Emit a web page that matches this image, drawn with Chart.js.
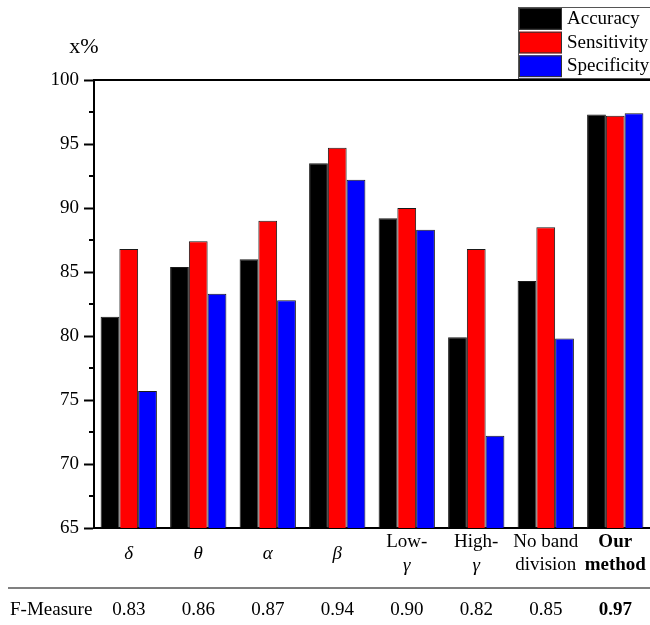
<!DOCTYPE html>
<html>
<head>
<meta charset="utf-8">
<script src="https://cdn.jsdelivr.net/npm/chart.js@4.4.1/dist/chart.umd.min.js"></script>
<style>
  html, body { margin: 0; padding: 0; background: #fff; }
  #wrap { width: 650px; height: 625px; }
</style>
</head>
<body>
<div id="wrap"><canvas id="chart" width="650" height="625"></canvas></div>
<script>
'use strict';

// ── Data ─────────────────────────────────────────────────────────────────────
const categories  = [['δ'], ['θ'], ['α'], ['β'], ['Low-', 'γ'], ['High-', 'γ'], ['No band', 'division'], ['Our', 'method']];
const accuracy    = [81.5, 85.4, 86.0, 93.5, 89.2, 79.9, 84.3, 97.3];
const sensitivity = [86.8, 87.4, 89.0, 94.7, 90.0, 86.8, 88.5, 97.2];
const specificity = [75.7, 83.3, 82.8, 92.2, 88.3, 72.2, 79.8, 97.4];
const fMeasure    = ['0.83', '0.86', '0.87', '0.94', '0.90', '0.82', '0.85', '0.97'];
const yTicks      = [65, 70, 75, 80, 85, 90, 95, 100];
const highlightIndex = 7; // "Our method" is set in bold

const FONT = '"Liberation Serif", "Times New Roman", serif';
Chart.defaults.font.family = FONT;
Chart.defaults.color = '#000';

// ── Helpers ──────────────────────────────────────────────────────────────────
function isGreek(s) {
  return /^[\u0370-\u03ff]$/.test(s);
}

function fontFor(text, bold, size) {
  return `${isGreek(text) ? 'italic ' : ''}${bold ? 'bold ' : ''}${size}px ${FONT}`;
}

// ── Plugins ──────────────────────────────────────────────────────────────────
const decorations = {
  id: 'decorations',
  afterDraw(chart) {
    const { ctx, chartArea, scales: { x, y } } = chart;
    ctx.save();

    // top frame line + minor ticks on the y axis
    ctx.strokeStyle = '#000';
    ctx.lineWidth = 2;
    ctx.beginPath();
    ctx.moveTo(chartArea.left - 1, chartArea.top);
    ctx.lineTo(chartArea.right, chartArea.top);
    for (let i = 0; i < yTicks.length - 1; i++) {
      const py = y.getPixelForValue((yTicks[i] + yTicks[i + 1]) / 2);
      ctx.moveTo(chartArea.left - 5, py);
      ctx.lineTo(chartArea.left, py);
    }
    ctx.stroke();

    // "x%" unit label
    ctx.fillStyle = '#000';
    ctx.textAlign = 'center';
    ctx.textBaseline = 'middle';
    ctx.font = `22px ${FONT}`;
    ctx.fillText('x%', 84, 47);

    // category labels under the axis
    categories.forEach((lines, i) => {
      const px = x.getPixelForValue(i);
      const bold = i === highlightIndex;
      const lineH = 23;
      const y0 = 554 - (lines.length - 1) * lineH / 2;
      lines.forEach((txt, j) => {
        ctx.font = fontFor(txt, bold, 19);
        ctx.fillText(txt, px, y0 + j * lineH);
      });
    });

    // separator + F-Measure row
    ctx.strokeStyle = '#808080';
    ctx.lineWidth = 2;
    ctx.beginPath();
    ctx.moveTo(8, 588);
    ctx.lineTo(650, 588);
    ctx.stroke();

    ctx.textAlign = 'left';
    ctx.font = `19px ${FONT}`;
    ctx.fillText('F-Measure', 10, 610);
    ctx.textAlign = 'center';
    fMeasure.forEach((v, i) => {
      ctx.font = `${i === highlightIndex ? 'bold ' : ''}19px ${FONT}`;
      ctx.fillText(v, x.getPixelForValue(i), 610);
    });

    // legend box, top right
    const lx = 518, ly = 7, lw = 132, lh = 71;
    ctx.fillStyle = '#fff';
    ctx.fillRect(lx, ly, lw, lh);
    ctx.strokeStyle = '#555';
    ctx.lineWidth = 1;
    ctx.strokeRect(lx + 0.5, ly + 0.5, lw, lh);
    const rowH = 23.7;
    chart.data.datasets.forEach((ds, i) => {
      const ry = ly + 1 + i * rowH;
      ctx.fillStyle = ds.backgroundColor;
      ctx.fillRect(lx + 1, ry, 43, rowH - 2);
      ctx.strokeStyle = '#333';
      ctx.strokeRect(lx + 1.5, ry + 0.5, 42, rowH - 3);
      ctx.fillStyle = '#000';
      ctx.textAlign = 'left';
      ctx.font = `19px ${FONT}`;
      ctx.fillText(ds.label, lx + 49, ry + rowH / 2 - 1);
    });

    ctx.restore();
  },
};

// ── Chart ────────────────────────────────────────────────────────────────────
const barStyle = {
  borderColor: '#1a1a1a',
  borderWidth: 1,
  barPercentage: 1.0,
  categoryPercentage: 0.81,
};

new Chart(document.getElementById('chart'), {
  type: 'bar',
  data: {
    labels: categories.map(c => c.join(' ')),
    datasets: [
      { label: 'Accuracy',    data: accuracy,    backgroundColor: '#000000', ...barStyle },
      { label: 'Sensitivity', data: sensitivity, backgroundColor: '#ff0000', ...barStyle },
      { label: 'Specificity', data: specificity, backgroundColor: '#0000ff', ...barStyle },
    ],
  },
  options: {
    responsive: false,
    animation: false,
    layout: { padding: { top: 80, right: 0, bottom: 0, left: 0 } },
    plugins: {
      legend: { display: false },
      tooltip: { enabled: false },
    },
    scales: {
      x: {
        ticks: { display: false },
        grid: { display: false },
        border: { color: '#000', width: 2 },
        afterFit(scale) { scale.height = 97; },
      },
      y: {
        min: yTicks[0],
        max: yTicks[yTicks.length - 1],
        afterBuildTicks(scale) { scale.ticks = yTicks.map(v => ({ value: v })); },
        ticks: { padding: 5, font: { size: 19 }, color: '#000' },
        grid: { drawOnChartArea: false, tickLength: 10, tickWidth: 2, tickColor: '#000' },
        border: { color: '#000', width: 2 },
        afterFit(scale) { scale.width = 94; },
      },
    },
  },
  plugins: [decorations],
});
</script>
</body>
</html>
